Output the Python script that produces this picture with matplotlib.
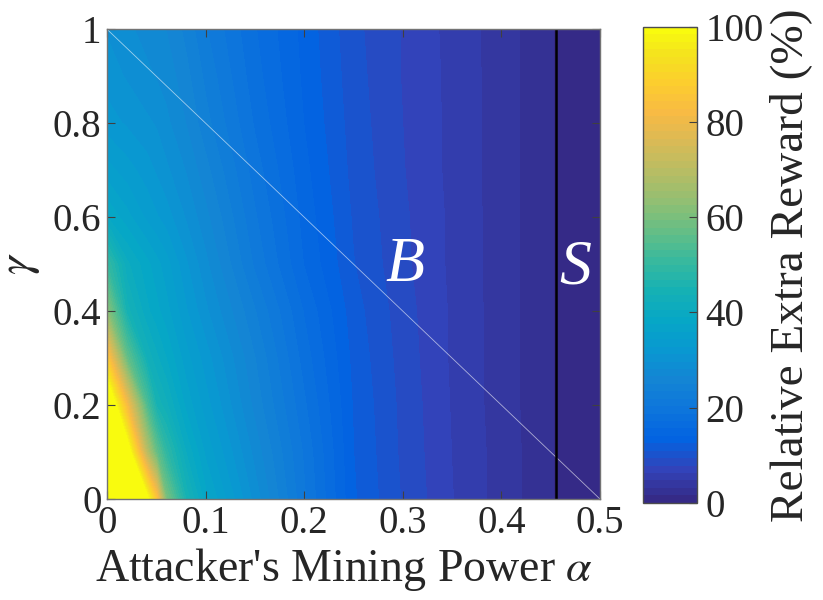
import numpy as np
import matplotlib
matplotlib.use("Agg")
import matplotlib.pyplot as plt
from matplotlib.colors import LinearSegmentedColormap, Normalize
from matplotlib.cm import ScalarMappable

plt.rcParams["font.family"] = ["Liberation Serif", "DejaVu Serif"]
plt.rcParams["mathtext.fontset"] = "stix"

# attacker's mining power (x) and gamma (y) grid
alpha = [0, 0.02, 0.04, 0.05, 0.06, 0.08, 0.10, 0.15, 0.20, 0.25, 0.30, 0.35, 0.40, 0.45, 0.46, 0.50]
gamma = [0, 0.1, 0.2, 0.3, 0.4, 0.5, 0.6, 0.7, 0.8, 0.9, 1.0]

# relative extra reward (%), one row per gamma value
reward = [
    [130, 115, 102, 85, 60, 45, 38, 29, 20.5, 12.7, 9.2, 6.3, 4.0, 1.8, 1.0, 0.5],
    [120, 105, 70, 57, 49, 40.5, 35.5, 27.5, 20, 12.5, 9.0, 6.2, 4.0, 1.8, 1.0, 0.5],
    [112, 82, 54, 45, 42.5, 37, 33.5, 26, 19, 12.3, 8.9, 6.1, 3.9, 1.8, 1.0, 0.5],
    [86, 57, 43.5, 41, 39, 35, 32, 25, 18, 12.0, 8.7, 6.0, 3.9, 1.8, 1.0, 0.5],
    [62, 44.5, 39.5, 38, 36.5, 33, 30, 23.5, 17, 11.6, 8.5, 6.0, 3.9, 1.8, 1.0, 0.5],
    [50, 41, 38, 36.5, 35, 31.5, 28.5, 21.5, 15.5, 11.0, 8.2, 5.9, 3.9, 1.8, 1.0, 0.5],
    [39, 36.5, 34, 33, 32, 29.5, 27, 20.5, 15, 10.7, 8.1, 5.9, 3.9, 1.8, 1.0, 0.5],
    [35, 33.5, 32, 31, 30, 28, 25.5, 19.5, 14.5, 10.4, 7.9, 5.8, 3.9, 1.8, 1.0, 0.5],
    [32, 31, 30, 29.5, 28.5, 26.5, 24, 18.5, 14, 10.2, 7.8, 5.8, 3.9, 1.8, 1.0, 0.5],
    [30.5, 29.5, 28.5, 28, 27.5, 25.5, 23, 17.8, 13.7, 10.0, 7.7, 5.8, 3.9, 1.8, 1.0, 0.5],
    [29.5, 28.5, 27.5, 27, 26.5, 24.5, 22, 17.3, 13.5, 9.8, 7.7, 5.7, 3.9, 1.8, 1.0, 0.5],
]

boundary_alpha = 0.455
cbar_ticks = [0, 20, 40, 60, 80, 100]

# MATLAB parula, sampled
parula_pts = [
    (0.2081, 0.1663, 0.5292), (0.1959, 0.2645, 0.7279), (0.0117, 0.3875, 0.8820),
    (0.0498, 0.4586, 0.8641), (0.0793, 0.5200, 0.8312), (0.0343, 0.5966, 0.8199),
    (0.0228, 0.6535, 0.7768), (0.0843, 0.6928, 0.7062), (0.2178, 0.7250, 0.6193),
    (0.3953, 0.7459, 0.5244), (0.5709, 0.7485, 0.4494), (0.7184, 0.7411, 0.3905),
    (0.8507, 0.7299, 0.3360), (0.9739, 0.7314, 0.2666), (0.9880, 0.8066, 0.1794),
    (0.9589, 0.8949, 0.1132), (0.9763, 0.9831, 0.0538),
]
pos = [i / 63 for i in range(0, 64, 4)]
pos = pos[:len(parula_pts) - 1] + [1.0]
parula = LinearSegmentedColormap.from_list("parula", list(zip(pos, parula_pts)), N=64)
parula.set_over(parula_pts[-1])

fig = plt.figure(figsize=(8.23, 6.0), dpi=100)
ax = fig.add_axes([0.130, 0.1683, 0.599, 0.783])
cax = fig.add_axes([0.781, 0.162, 0.066, 0.793])

A, G = np.meshgrid(alpha, gamma)
cs = ax.contourf(A, G, np.array(reward), levels=np.linspace(0, 100, 65),
                 cmap=parula, extend="max")
cs.set_edgecolor("face")
cs.set_linewidth(0.4)

ax.plot([0, 0.5], [1, 0], color="white", lw=0.6, alpha=0.6)
ax.axvline(boundary_alpha, color="black", lw=1.8)

ax.text(0.302, 0.495, "B", color="white", fontsize=46, style="italic",
        ha="center", va="center")
ax.text(0.4746, 0.49, "S", color="white", fontsize=46, style="italic",
        ha="center", va="center")

ax.set_xlim(0, 0.5)
ax.set_ylim(0, 1)
ax.set_xticks([0, 0.1, 0.2, 0.3, 0.4, 0.5])
ax.set_xticklabels(["0", "0.1", "0.2", "0.3", "0.4", "0.5"])
ax.set_yticks([0, 0.2, 0.4, 0.6, 0.8, 1])
ax.set_yticklabels(["0", "0.2", "0.4", "0.6", "0.8", "1"])
ax.tick_params(direction="in", top=True, right=True, length=6, width=0.8,
               color="0.25", labelsize=28, labelcolor="0.15", pad=4)
for s in ax.spines.values():
    s.set_color("0.45")
    s.set_linewidth(1.0)
ax.set_xlabel("Attacker's Mining Power $\\alpha$", fontsize=33, color="0.15", labelpad=8)
ax.xaxis.set_label_coords(0.48, -0.1)
ax.xaxis.label.set_va("top")
ax.set_ylabel("$\\gamma$", fontsize=34, color="0.15", labelpad=8)

cb = fig.colorbar(ScalarMappable(norm=Normalize(0, 100), cmap=parula), cax=cax)
cb.set_ticks(cbar_ticks)
cb.ax.tick_params(direction="in", length=6, width=0.8, color="0.25",
                  labelsize=28, labelcolor="0.15", pad=6)
cb.outline.set_edgecolor("0.3")
cb.outline.set_linewidth(1.0)
cb.set_label("Relative Extra Reward (%)", fontsize=34, color="0.15", labelpad=4)

fig.savefig("out.png", dpi=100)
